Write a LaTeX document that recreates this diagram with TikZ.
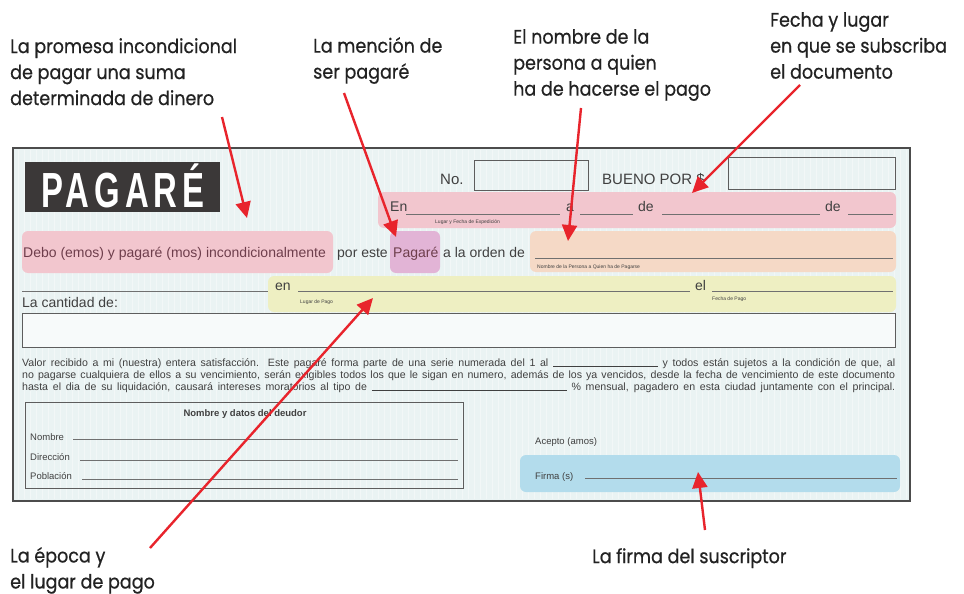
\documentclass[tikz,border=0pt]{standalone}
\usepackage{fontspec}
\setmainfont{Liberation Sans}
\newfontfamily\lblfont[FakeStretch=0.9,FakeBold=0.6]{Poppins}
\newfontfamily\pagfont[LetterSpace=15]{Liberation Sans}
\usetikzlibrary{arrows.meta}
\definecolor{formbg}{HTML}{EAF3F3}
\definecolor{pinkband}{HTML}{F2C6CE}
\definecolor{purpband}{HTML}{E2B4D6}
\definecolor{peachband}{HTML}{F5D9C6}
\definecolor{yellband}{HTML}{EEEFC2}
\definecolor{blueband}{HTML}{B3DCEC}
\definecolor{arrowred}{HTML}{E8242C}
\definecolor{formtext}{HTML}{404040}
\definecolor{debotext}{HTML}{6E3E4C}
\definecolor{pagdark}{HTML}{3B3838}
\definecolor{lbltext}{HTML}{222222}
\tikzset{
  band/.style={rounded corners=6pt, draw=none},
  ftxt/.style={font=\fontsize{14}{16}\selectfont, text=formtext, inner sep=0, anchor=base west},
  stxt/.style={font=\fontsize{9.5}{11}\selectfont, text=formtext, inner sep=0, anchor=base west},
  partxt/.style={font=\fontsize{10.6}{12}\selectfont, text=formtext, inner sep=0, anchor=base west},
  tinytxt/.style={font=\fontsize{5}{6}\selectfont, text=formtext, inner sep=0, anchor=base west},
  lbl/.style={font=\lblfont\fontsize{19.5}{26}\selectfont, align=left, anchor=north west, inner sep=0, text=lbltext},
  callout/.style={draw=arrowred, line width=2.4pt, -{Triangle[length=16pt,width=15pt]}},
  fline/.style={draw=formtext!75, line width=0.6pt},
  fbox/.style={draw=formtext!85, line width=0.8pt}
}
\begin{document}
\begin{tikzpicture}[x=1pt,y=-1pt]
\useasboundingbox[fill=white] (0,0) rectangle (964,594);
% form background
\fill[formbg] (13,148) rectangle (910,501);
\draw[white, line width=0.6pt, opacity=0.4, step=6] (14,150) grid (908,499);
\draw[draw=black!70, line width=1.8pt] (13,148) rectangle (910,501);
% PAGARE block
\node[fill=pagdark, minimum width=195pt, minimum height=50pt, inner sep=0, anchor=north west] (pagbox) at (25,162) {};
\node[text=white, inner sep=0, anchor=base] (pagtxt) at (123,207) {\scalebox{0.7}[1.05]{\pagfont\bfseries\fontsize{47}{47}\selectfont PAGARÉ}};
% No. and Bueno por
\node[ftxt, font=\fontsize{15}{17}\selectfont] (notxt) at (440,184) {No.};
\node[fbox, minimum width=114pt, minimum height=30pt, inner sep=0, anchor=north west] (nobox) at (474,160) {};
\node[ftxt, font=\fontsize{15}{17}\selectfont] (buenotxt) at (602,184) {BUENO POR \$};
\node[fbox, minimum width=167pt, minimum height=32pt, inner sep=0, anchor=north west] (buenobox) at (728,157) {};
% pink band: lugar y fecha
\fill[band, pinkband] (378,192) rectangle (896,228);
\node[ftxt] (entxt) at (390,211) {En};
\draw[fline] (406,214) -- (560,214);
\node[ftxt] (atxt) at (566,211) {a};
\draw[fline] (580,214) -- (633,214);
\node[ftxt] (de1txt) at (638,211) {de};
\draw[fline] (662,214) -- (820,214);
\node[ftxt] (de2txt) at (825,211) {de};
\draw[fline] (848,214) -- (893,214);
\node[tinytxt] (lugfecha) at (435,223) {Lugar y Fecha de Expedición};
% row debo
\fill[band, pinkband] (22,231) rectangle (333,273);
\node[ftxt, text=debotext] (debotxt) at (23,257) {Debo (emos) y pagaré (mos) incondicionalmente};
\node[ftxt] (portxt) at (337,257) {por este};
\fill[band, purpband] (390,231) rectangle (440,273);
\node[ftxt, text=debotext] (pagare2) at (393,257) {Pagaré};
\node[ftxt] (ordentxt) at (443,257) {a la orden de};
\fill[band, peachband] (530,231) rectangle (896,272);
\draw[fline] (535,258) -- (893,258);
\node[tinytxt] (nombrepers) at (537,268) {Nombre de la Persona a Quien ha de Pagarse};
% yellow band
\fill[band, yellband] (268,276) rectangle (896,312);
\draw[fline] (22,291) -- (268,291);
\node[ftxt] (en2txt) at (275,290) {en};
\draw[fline] (298,291) -- (690,291);
\node[ftxt] (eltxt) at (695,290) {el};
\draw[fline] (712,291) -- (893,291);
\node[tinytxt] (lugpago) at (300,303) {Lugar de Pago};
\node[tinytxt] (fechapago) at (712,300) {Fecha de Pago};
\node[ftxt] (cantidad) at (22,307) {La cantidad de:};
\node[fbox, fill=formbg!40, minimum width=873pt, minimum height=34pt, inner sep=0, anchor=north west] (cantbox) at (22,313) {};
% paragraph
\node[partxt] (par1) at (22,366) {\makebox[873pt][s]{Valor recibido a mi (nuestra) entera satisfacción. Este pagaré forma parte de una serie numerada del 1 al \rule[-0.5pt]{105pt}{0.5pt} y todos están sujetos a la condición de que, al}};
\node[partxt] (par2) at (22,378) {\makebox[873pt][s]{no pagarse cualquiera de ellos a su vencimiento, serán exigibles todos los que le sigan en numero, además de los ya vencidos, desde la fecha de vencimiento de este documento}};
\node[partxt] (par3) at (22,390) {\makebox[873pt][s]{hasta el dia de su liquidación, causará intereses moratorios al tipo de \rule[-0.5pt]{195pt}{0.5pt} \% mensual, pagadero en esta ciudad juntamente con el principal.}};
% debtor box
\node[fbox, minimum width=438pt, minimum height=86pt, inner sep=0, anchor=north west] (deudorbox) at (25,402) {};
\node[stxt, font=\bfseries\fontsize{9.5}{11}\selectfont, anchor=base] (deudortit) at (245,416) {Nombre y datos del deudor};
\node[stxt] (nombre) at (30,440) {Nombre};
\draw[fline] (73,439) -- (458,439);
\node[stxt] (direccion) at (30,460) {Dirección};
\draw[fline] (80,460) -- (458,460);
\node[stxt] (poblacion) at (30,479) {Población};
\draw[fline] (82,479) -- (458,479);
% acepto and firma
\node[stxt] (acepto) at (535,444) {Acepto (amos)};
\fill[band, blueband] (520,455) rectangle (900,492);
\node[stxt] (firma) at (535,479) {Firma (s)};
\draw[fline] (585,478) -- (897,478);
% callout labels
\node[lbl] (l1) at (10,38) {La promesa incondicional\\de pagar una suma\\determinada de dinero};
\node[lbl] (l2) at (313,37) {La mención de\\ser pagaré};
\node[lbl] (l3) at (513,29) {El nombre de la\\persona a quien\\ha de hacerse el pago};
\node[lbl] (l4) at (770,12) {Fecha y lugar\\en que se subscriba\\el documento};
\node[lbl] (l5) at (10,547) {La época y\\el lugar de pago};
\node[lbl] (l6) at (592,548) {La firma del suscriptor};
% arrow endpoints
\coordinate (s1) at (222,117); \coordinate (t1) at (247,218);
\coordinate (s2) at (344,93);  \coordinate (t2) at (396,237);
\coordinate (s3) at (581,108); \coordinate (t3) at (568,241);
\coordinate (s4) at (800,85);  \coordinate (t4) at (692,193);
\coordinate (s5) at (150,548); \coordinate (t5) at (373,298);
\coordinate (s6) at (705,530); \coordinate (t6) at (698,472);
\draw[callout] (s1) -- (t1);
\draw[callout] (s2) -- (t2);
\draw[callout] (s3) -- (t3);
\draw[callout] (s4) -- (t4);
\draw[callout] (s5) -- (t5);
\draw[callout] (s6) -- (t6);
\end{tikzpicture}
\end{document}
